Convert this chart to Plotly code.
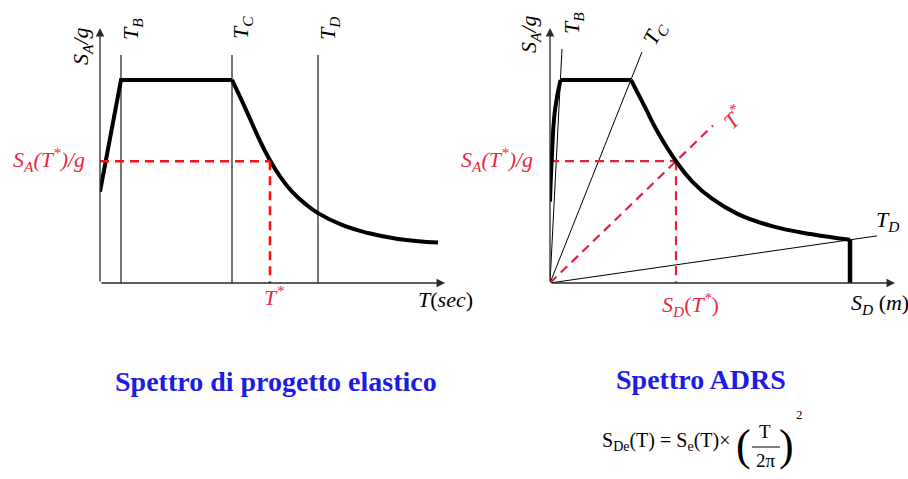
import plotly.graph_objects as go

# ---------------- data ----------------
# Elastic design spectrum: period T [s] vs spectral acceleration S_A/g
T_B, T_C, T_D = 0.21, 1.32, 2.18
T_STAR, SA_STAR = 1.70, 0.60
spec_T = [0.0, 0.21, 1.32, 1.45, 1.58, 1.69, 1.80, 1.92, 2.05, 2.18, 2.42, 2.68, 2.98, 3.38]
spec_SA = [0.45, 1.0, 1.0, 0.864, 0.721, 0.613, 0.525, 0.450, 0.391, 0.344, 0.286, 0.246, 0.217, 0.199]
corner_top = 1.123          # top of the T_B / T_C / T_D marker lines

# ADRS spectrum: spectral displacement S_D [m] vs S_A/g
SD_STAR = 0.126
adrs_SD = [0.0, 0.0017, 0.005, 0.0105, 0.081, 0.095, 0.108, 0.126, 0.142, 0.162, 0.188, 0.222, 0.262, 0.300]
adrs_SA = [0.40, 0.606, 0.852, 1.0, 1.0, 0.866, 0.741, 0.60, 0.501, 0.415, 0.339, 0.280, 0.240, 0.213]
# radial period lines through the origin (end points)
radial_names = ["T_B", "T_C", "T_D"]
radial_SD = [0.012, 0.092, 0.327]
radial_SA = [1.153, 1.138, 0.232]
tstar_line_SD = 0.163
tstar_line_SA = 0.776

# axis extents (arrow tips)
T_MAX, SD_MAX, SA_MAX = 3.45, 0.345, 1.256

W, H = 908, 479
BLACK = "#000000"
AXIS = "#2a2a2a"
RED_L = "#ff1010"
RED_R = "#e3203c"
RED_TXT = "#e8283f"
BLUE = "#1c1ce6"
SERIF = "Liberation Serif"


def P(x, y):
    """pixel position -> paper coordinates"""
    return x / W, 1 - y / H


fig = go.Figure()


def line(x, y, ax, color=BLACK, width=1.0, dash=None, shape="linear"):
    ax_x, ax_y = ("x", "y") if ax == 1 else ("x2", "y2")
    fig.add_trace(go.Scatter(
        x=x, y=y, mode="lines", xaxis=ax_x, yaxis=ax_y, hoverinfo="skip",
        line=dict(color=color, width=width, dash=dash, shape=shape, smoothing=1.3),
        showlegend=False))


# ---------- left panel: elastic spectrum ----------
for tc in (T_B, T_C, T_D):
    line([tc, tc], [0, corner_top], 1, width=1.1)
line(spec_T[:3], spec_SA[:3], 1, width=4)
line(spec_T[2:], spec_SA[2:], 1, width=4, shape="spline")
line([0, T_STAR], [SA_STAR, SA_STAR], 1, color=RED_L, width=2.6, dash="9px,6px")
line([T_STAR, T_STAR], [SA_STAR, 0], 1, color=RED_L, width=2.6, dash="9px,6px")

# ---------- right panel: ADRS ----------
for sd, sa in zip(radial_SD, radial_SA):
    line([0, sd], [0, sa], 2, width=1.0)
line([0, tstar_line_SD], [0, tstar_line_SA], 2, color=RED_R, width=2.2, dash="9px,6px")
line([0, SD_STAR], [SA_STAR, SA_STAR], 2, color=RED_R, width=2.2, dash="9px,6px")
line([SD_STAR, SD_STAR], [SA_STAR, 0], 2, color=RED_R, width=2.2, dash="9px,6px")
line(adrs_SD[:4], adrs_SA[:4], 2, width=4, shape="spline")
line(adrs_SD[3:5], adrs_SA[3:5], 2, width=4)
line(adrs_SD[4:], adrs_SA[4:], 2, width=4, shape="spline")
line([adrs_SD[-1], adrs_SD[-1]], [adrs_SA[-1], 0], 2, width=4.5)

annotations = []

# axis arrows
for xr, yr, xm in (("x", "y", T_MAX), ("x2", "y2", SD_MAX)):
    annotations.append(dict(x=xm, y=0, ax=0, ay=0, xref=xr, yref=yr, axref=xr, ayref=yr,
                            showarrow=True, arrowhead=2, arrowsize=1.3, arrowwidth=1.3,
                            arrowcolor=AXIS, text=""))
    annotations.append(dict(x=0, y=SA_MAX, ax=0, ay=0, xref=xr, yref=yr, axref=xr, ayref=yr,
                            showarrow=True, arrowhead=2, arrowsize=1.3, arrowwidth=1.3,
                            arrowcolor=AXIS, text=""))


def label(text, x, y, size=22, color=BLACK, angle=0, family=SERIF):
    px_, py_ = P(x, y)
    annotations.append(dict(text=text, x=px_, y=py_, xref="paper", yref="paper",
                            showarrow=False, xanchor="center", yanchor="middle",
                            textangle=angle, font=dict(family=family, size=size, color=color)))


SA_G = "<i>S<sub>A</sub>/g</i>"
SA_T = "<i>S<sub>A</sub>(T<sup>*</sup>)/g</i>"

# left labels
label(SA_G, 82, 46, angle=-90)
label("<i>T<sub>B</sub></i>", 132, 29, angle=-90)
label("<i>T<sub>C</sub></i>", 242, 28, angle=-90)
label("<i>T<sub>D</sub></i>", 329, 29, angle=-90)
label(SA_T, 49, 159, color=RED_TXT)
label("<i>T<sup>*</sup></i>", 274, 296, color=RED_TXT)
label("<i>T</i>(<i>sec</i>)", 445, 299)

# right labels
label(SA_G, 530, 34, angle=-90)
label("<i>T<sub>B</sub></i>", 573, 23, angle=-90)
label("<i>T<sub>C</sub></i>", 655, 34, angle=-62)
label("<i>T<sup>*</sup></i>", 733, 117, color=RED_TXT, angle=-44)
label("<i>T<sub>D</sub></i>", 887, 221)
label(SA_T, 497, 159, color=RED_TXT)
label("<i>S<sub>D</sub></i>(<i>T<sup>*</sup></i>)", 690, 304, color=RED_TXT)
label("<i>S<sub>D</sub></i> (<i>m</i>)", 880, 304)

# panel titles
label("<b>Spettro di progetto elastico</b>", 276, 381, size=28, color=BLUE)
label("<b>Spettro ADRS</b>", 701, 379, size=28, color=BLUE)

# formula S_De(T) = S_e(T) x (T / 2pi)^2
label("S<sub>De</sub>(T) = S<sub>e</sub>(T)×", 666, 441, size=20)
label("(", 743, 445, size=44)
label(")", 786, 445, size=44)
label("T", 765, 431, size=19)
label("2π", 766, 460, size=19)
label("2", 799, 414, size=13)
fig.add_shape(type="line", xref="paper", yref="paper",
              x0=752 / W, x1=780 / W, y0=1 - 447 / H, y1=1 - 447 / H,
              line=dict(color=BLACK, width=1))

ybottom, ytop = 1 - 283 / H, 1 - 28 / H
fig.update_layout(
    width=W, height=H, margin=dict(l=0, r=0, t=0, b=0),
    paper_bgcolor="white", plot_bgcolor="white",
    xaxis=dict(domain=[100 / W, 445 / W], range=[0, T_MAX], visible=False, fixedrange=True),
    yaxis=dict(domain=[ybottom, ytop], range=[0, SA_MAX], visible=False, fixedrange=True),
    xaxis2=dict(domain=[550 / W, 895 / W], range=[0, SD_MAX], visible=False, fixedrange=True),
    yaxis2=dict(domain=[ybottom, ytop], range=[0, SA_MAX], visible=False, fixedrange=True,
                anchor="x2"),
    annotations=annotations,
)

fig.write_html("out.html")
